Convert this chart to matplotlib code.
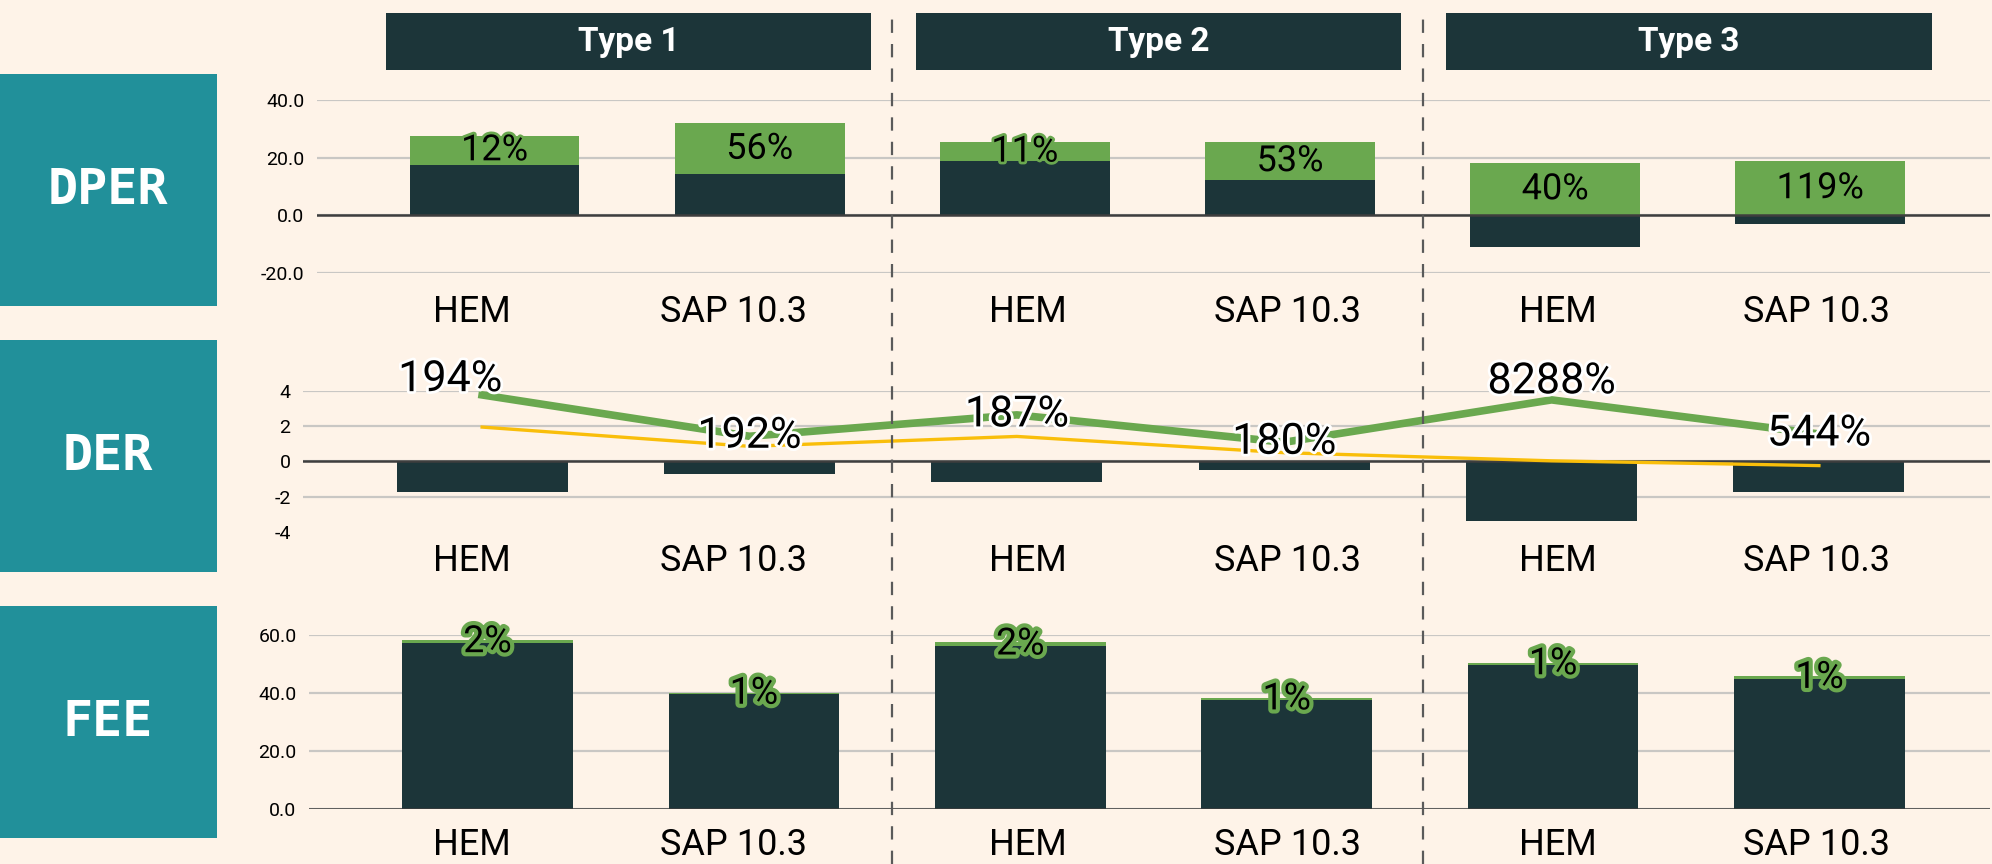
import matplotlib
matplotlib.use("Agg")
import matplotlib.pyplot as plt
import matplotlib.patheffects as pe
from matplotlib.patches import Rectangle
from matplotlib.lines import Line2D
from matplotlib.transforms import blended_transform_factory
import numpy as np

plt.rcParams['font.family'] = ['Roboto', 'DejaVu Sans']

# data
categories = ['HEM', 'SAP 10.3', 'HEM', 'SAP 10.3', 'HEM', 'SAP 10.3']
types = ['Type 1', 'Type 2', 'Type 3']
rows = ['DPER', 'DER', 'FEE']

dper_base = [17.6, 14.2, 18.7, 12.1, -11.0, -3.0]
dper_extra = [9.9, 17.8, 6.8, 13.4, 18.1, 18.8]
dper_labels = ['12%', '56%', '11%', '53%', '40%', '119%']

der_bars = [-1.75, -0.69, -1.18, -0.47, -3.38, -1.75]
der_green = [3.76, 1.42, 2.63, 1.08, 3.48, 1.55]
der_yellow = [1.94, 0.85, 1.41, 0.49, 0.03, -0.24]
der_labels = ['194%', '192%', '187%', '180%', '8288%', '544%']

fee_base = [57.0, 39.6, 56.1, 37.5, 49.6, 44.9]
fee_extra = [1.2, 0.5, 1.4, 0.8, 0.8, 0.8]
fee_labels = ['2%', '1%', '2%', '1%', '1%', '1%']

# colours
bg = '#FEF3E8'
dark = '#1C3539'
green = '#6AA84F'
yellow = '#F9BE0A'
teal = '#21909A'
grid_c = '#C9C7C4'

W, H = 1992, 864
fig = plt.figure(figsize=(W / 100, H / 100), dpi=100, facecolor=bg)

x = np.arange(len(categories))
bw = 0.64
# category labels sit on one common column for all rows (shift in DPER units)
tick_shift = [-0.085, -0.10, 0.01, -0.01, 0.01, -0.015]


def make_axes(left, right, top, bottom):
    ax = fig.add_axes([left / W, 1 - bottom / H, (right - left) / W, (bottom - top) / H])
    ax.set_facecolor('none')
    for s in ax.spines.values():
        s.set_visible(False)
    ax.set_xlim(-0.67, 5.64)
    ax.set_axisbelow(True)
    ax.yaxis.grid(True, color=grid_c, lw=1.6)
    ax.tick_params(length=0)
    ax.tick_params(axis='y', labelsize=14, pad=9)
    ax.axhline(0, color='#3E3E3E', lw=1.8, zorder=3)
    return ax


def set_cat_ticks(ax, ref_ax):
    pts = np.column_stack([x + np.array(tick_shift), np.zeros(len(x))])
    px = ref_ax.transData.transform(pts)
    pos = ax.transData.inverted().transform(px)[:, 0]
    ax.set_xticks(pos)
    ax.set_xticklabels(categories, fontsize=26)


# DPER
ax1 = make_axes(317, 1990, 100, 273)
ax1.set_ylim(-20, 40)
ax1.set_yticks([-20, 0, 20, 40])
ax1.set_yticklabels([f'{v:.1f}' for v in [-20, 0, 20, 40]])
ax1.tick_params(axis='x', pad=15)
ax1.bar(x, dper_base, bw, color=dark, zorder=2)
bottoms = np.maximum(dper_base, 0)
c1 = ax1.bar(x, dper_extra, bw, bottom=bottoms, color=green, zorder=2)
ax1.bar_label(c1, labels=dper_labels, label_type='center', fontsize=26, color='black',
              path_effects=[pe.withStroke(linewidth=4, foreground=green)], zorder=5)
set_cat_ticks(ax1, ax1)

# DER
ax2 = make_axes(303, 1990, 390.7, 532)
ax2.set_ylim(-4, 4)
ax2.set_yticks([-4, -2, 0, 2, 4])
ax2.set_yticklabels(['-4', '-2', '0', '2', '4'])
ax2.get_ygridlines()[0].set_visible(False)
ax2.tick_params(axis='x', pad=8)
ax2.bar(x, der_bars, bw, color=dark, zorder=2)
ax2.plot(x, der_green, color=green, lw=5.5, zorder=4, clip_on=False)
ax2.plot(x, der_yellow, color=yellow, lw=2.4, zorder=4, clip_on=False)
label_offsets = [(-23, 11), (0, 0), (0, 0), (0, 0), (0, 13), (0, 0)]
for i, lab in enumerate(der_labels):
    ax2.annotate(lab, (x[i], der_green[i]), xytext=label_offsets[i], textcoords='offset points',
                 ha='center', va='center', fontsize=31, color='black', zorder=6,
                 path_effects=[pe.withStroke(linewidth=4, foreground='white')])
set_cat_ticks(ax2, ax1)

# FEE
ax3 = make_axes(309, 1990, 634.7, 809)
ax3.set_ylim(0, 60)
ax3.set_yticks([0, 20, 40, 60])
ax3.set_yticklabels([f'{v:.1f}' for v in [0, 20, 40, 60]])
ax3.tick_params(axis='x', pad=13)
ax3.bar(x, fee_base, bw, color=dark, zorder=2)
c3 = ax3.bar(x, fee_extra, bw, bottom=fee_base, color=green, zorder=2)
ax3.bar_label(c3, labels=fee_labels, label_type='center', fontsize=27, color='black',
              path_effects=[pe.withStroke(linewidth=6, foreground=green)], zorder=5)
set_cat_ticks(ax3, ax1)

# group separators and headers
tr = blended_transform_factory(ax1.transData, fig.transFigure)
for sep in [1.5, 3.5]:
    fig.add_artist(Line2D([sep, sep], [0, 1 - 12 / H], transform=tr, color='#5A5A5A',
                          lw=1.6, dashes=(6, 5)))
for g, name in enumerate(types):
    left = 2 * g - 0.41
    fig.add_artist(Rectangle((left, 1 - 70 / H), 1.83, 57 / H, transform=tr,
                             facecolor=dark, edgecolor='none'))
    fig.text(left + 0.915, 1 - 41.5 / H, name, transform=tr, ha='center', va='center',
             color='white', fontsize=24, fontweight='bold')

# row label boxes
row_spans = [(74, 306), (340, 572), (606, 838)]
for name, (top, bottom) in zip(rows, row_spans):
    fig.add_artist(Rectangle((0, 1 - bottom / H), 217 / W, (bottom - top) / H,
                             transform=fig.transFigure, facecolor=teal, edgecolor='none'))
    fig.text(108 / W, 1 - (top + bottom) / 2 / H, name, ha='center', va='center',
             color='white', fontsize=36, fontweight='bold', family='DejaVu Sans Mono')

fig.savefig('out.png', dpi=100, facecolor=bg)
